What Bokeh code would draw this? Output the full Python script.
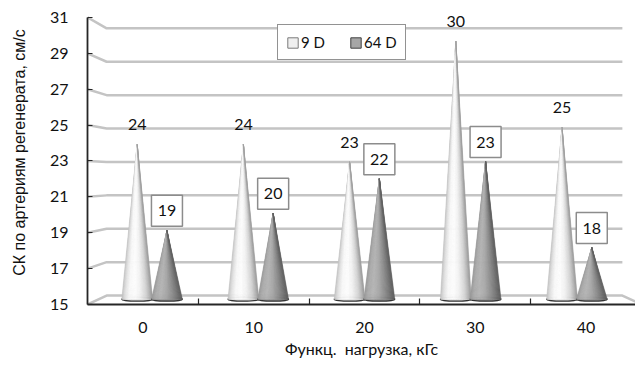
import numpy as np
from bokeh.plotting import figure
from bokeh.models import Range1d, FixedTicker, Legend, LegendItem
from bokeh.core.properties import value
from bokeh.embed import file_html
from bokeh.resources import INLINE

# Blood-flow velocity in the regenerate arteries by functional load
loads = ["0", "10", "20", "30", "40"]          # functional load, kGs
series = ["9 D", "64 D"]
flow_9d = [24, 24, 23, 30, 25]                  # cm/s, day 9
flow_64d = [19, 20, 22, 23, 18]                 # cm/s, day 64
y_ticks = [15, 17, 19, 21, 23, 25, 27, 29, 31]

Y_MIN, Y_MAX = 15, 31
X_END = 4.946          # visible part of the category axis (frame right edge)
Y_END = 31.945         # frame top
PX_PER_UNIT = 304 / (Y_END - Y_MIN)

# one-point perspective used for the 3-D box
VP_X, VP_Y = 2.5, 22.2
BACK = 0.931           # scale of the back wall
MID = 0.9586           # scale of the plane the cones stand in


def project(x, y, s):
    x = np.asarray(x, dtype=float)
    y = np.asarray(y, dtype=float)
    return VP_X + (x - VP_X) * s, VP_Y + (y - VP_Y) * s


n = len(loads)

p = figure(width=635, height=365,
           x_range=Range1d(0, X_END), y_range=Range1d(Y_MIN, Y_END),
           output_backend="svg", toolbar_location=None,
           min_border_left=87, min_border_right=0,
           min_border_top=0, min_border_bottom=61,
           background_fill_color="white", border_fill_color="white",
           outline_line_color=None)
p.grid.visible = False

# gridlines: side-wall diagonal + back-wall horizontal
gxs, gys = [], []
for t in y_ticks:
    bx, by = project([0, n], [t, t], BACK)
    gx = [0.0, bx[0], bx[1]]
    gy = [t, by[0], by[1]]
    if t == Y_MIN:
        gx.append(n)
        gy.append(t)
    gxs.append(gx)
    gys.append(gy)
p.multi_line(gxs, gys, line_color="#c4c4c4", line_width=2.5)

# cones
OFFSET = 0.14
HALF = 0.145
N_STRIPS = 30
light_stops = ([0.0, 0.1, 0.25, 0.45, 0.62, 0.8, 0.93, 1.0],
               [190, 222, 248, 252, 240, 212, 178, 150])
dark_stops = ([0.0, 0.12, 0.3, 0.5, 0.7, 0.88, 1.0],
              [150, 170, 180, 166, 140, 112, 92])


def gray(level):
    g = int(round(level))
    return "#{0:02x}{0:02x}{0:02x}".format(g)


def draw_cones(vals, side, stops, base_fill):
    cx = np.arange(n) + 0.5 + side * OFFSET
    ax, ay = project(cx, vals, MID)
    bx, by = project(cx, [Y_MIN] * n, MID)
    half_w = HALF * MID
    p.ellipse(x=bx, y=by, width=2 * half_w, height=4, height_units="screen",
              fill_color=base_fill, line_color="#333333", line_width=1.2)
    xs, ys, cols = [], [], []
    edges = np.linspace(0, 1, N_STRIPS + 1)
    for i in range(n):
        for k in range(N_STRIPS):
            t0, t1 = edges[k], edges[k + 1]
            x0 = bx[i] - half_w + 2 * half_w * t0
            x1 = bx[i] - half_w + 2 * half_w * t1
            xs.append([ax[i], x0, x1])
            ys.append([ay[i], by[i], by[i]])
            cols.append(gray(np.interp((t0 + t1) / 2, *stops)))
    p.patches(xs, ys, fill_color=cols, line_color=cols, line_width=0.6)
    return ax, ay, bx, by, half_w


ax9, ay9, bx9, by9, hw = draw_cones(flow_9d, -1, light_stops, "#d8d8d8")
ax64, ay64, bx64, by64, _ = draw_cones(flow_64d, 1, dark_stops, "#8c8c8c")

label_font = value("Lato")
lift = 19.5 / PX_PER_UNIT

# day-9 value labels
p.text(x=ax9, y=ay9 + lift, text=[str(v) for v in flow_9d],
       text_font=label_font, text_font_size="16px", text_color="#111111",
       text_align="center", text_baseline="middle")

# day-64 value labels in boxes
p.scatter(x=ax64, y=ay64 + lift, marker="square", size=31,
          fill_color="white", line_color="#8c8c8c", line_width=1.5)
p.text(x=ax64, y=ay64 + lift, text=[str(v) for v in flow_64d],
       text_font=label_font, text_font_size="16px", text_color="#111111",
       text_align="center", text_baseline="middle")

# axes
xax = p.xaxis[0]
xax.ticker = FixedTicker(ticks=[i + 0.5 for i in range(n)],
                         minor_ticks=list(range(1, n)))
xax.major_label_overrides = {i + 0.5: lab for i, lab in enumerate(loads)}
xax.major_tick_in = 0
xax.major_tick_out = 0
xax.minor_tick_in = 6
xax.minor_tick_out = 0
xax.minor_tick_line_color = "#262626"
xax.minor_tick_line_width = 1.2
xax.axis_line_color = "#262626"
xax.axis_line_width = 1.8
xax.major_label_standoff = 17
xax.major_label_text_font = "Lato"
xax.major_label_text_font_size = "16px"
xax.major_label_text_color = "#111111"
xax.axis_label = "Функц.\u00a0 нагрузка, кГс"
xax.axis_label_text_font = "Lato"
xax.axis_label_text_font_size = "16px"
xax.axis_label_text_font_style = "normal"
xax.axis_label_text_color = "#111111"
xax.axis_label_standoff = 3

yax = p.yaxis[0]
yax.ticker = FixedTicker(ticks=y_ticks)
yax.bounds = (Y_MIN, Y_MAX)
yax.major_tick_in = 5
yax.major_tick_out = 0
yax.minor_tick_in = 0
yax.minor_tick_out = 0
yax.major_tick_line_color = "#262626"
yax.axis_line_color = "#262626"
yax.axis_line_width = 1.8
yax.major_label_standoff = 19
yax.major_label_text_font = "Lato"
yax.major_label_text_font_size = "16px"
yax.major_label_text_color = "#111111"
yax.axis_label = "СК по артериям регенерата, см/с"
yax.axis_label_text_font = "Liberation Sans"
yax.axis_label_text_font_size = "16px"
yax.axis_label_text_font_style = "normal"
yax.axis_label_text_color = "#111111"
yax.axis_label_standoff = 19

# legend swatches: hidden quads over the cone bases, used only for the key
sw9 = p.quad(left=bx9 - hw, right=bx9 + hw, bottom=by9, top=ay9,
             fill_color="#efefef", line_color="#7a7a7a", visible=False)
sw64 = p.quad(left=bx64 - hw, right=bx64 + hw, bottom=by64, top=ay64,
              fill_color="#a6a6a6", line_color="#404040", visible=False)
legend = Legend(items=[LegendItem(label=series[0], renderers=[sw9]),
                       LegendItem(label=series[1], renderers=[sw64])],
                orientation="horizontal", location=(190, 244),
                border_line_color="#262626", border_line_width=1.5,
                background_fill_color="white", background_fill_alpha=1.0,
                inactive_fill_alpha=0.0, click_policy="none",
                padding=8, spacing=24, margin=0,
                glyph_width=13, glyph_height=13, label_standoff=2,
                label_height=18,
                label_text_font="Lato", label_text_font_size="15px",
                label_text_color="#111111")
p.add_layout(legend)

open("out.html", "w").write(file_html(p, INLINE))
